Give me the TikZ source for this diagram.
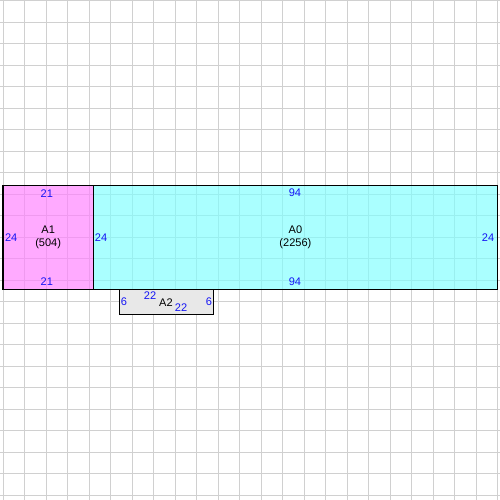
\documentclass[tikz,border=0pt]{standalone}
\usepackage{fontspec}
\setmainfont{Liberation Sans}
\usepackage{xcolor}
\usepackage{tikz}
\definecolor{gridgray}{RGB}{208, 208, 208}
\definecolor{roompink}{RGB}{255, 128, 255}
\definecolor{roomcyan}{RGB}{128, 255, 255}
\definecolor{roomgray}{RGB}{232, 232, 232}
\definecolor{dimblue}{RGB}{20, 20, 245}

\begin{document}
\begin{tikzpicture}[x=1mm, y=-1mm,
    gridline/.style={gridgray, line width=0.66pt},
    room/.style={draw=black, line width=0.7pt},
    dim/.style={dimblue, font=\fontsize{7.3}{8.5}\selectfont, inner sep=0pt},
    lbl/.style={black, font=\fontsize{7.3}{8.5}\selectfont, align=center, inner sep=0pt}]
\useasboundingbox (-0.7,-0.23) rectangle (115.58,116.05);

% Background grid
\foreach \g in {0,5,...,115} {
    \draw[gridline] (\g,-0.23) -- (\g,116.05);
}
\foreach \g in {0,5,...,115} {
    \draw[gridline] (-0.7,\g) -- (115.58,\g);
}

% Rooms
\fill[roompink, fill opacity=0.67] (0,43) rectangle (21,67);
\fill[roomcyan, fill opacity=0.67] (21,43) rectangle (115,67);
\draw[room] (0,43) rectangle (21,67);
\draw[room] (21,43) rectangle (115,67);
\draw[room, fill=roomgray] (27,67) rectangle (49,73);

% Room names
\node[lbl] (a1) at (10.5,55) {A1\\(504)};
\node[lbl] (a0) at (68,55) {A0\\(2256)};
\node[lbl] (a2) at (37.9,70.2) {A2};

% Dimensions of A1
\node[dim] (a1top) at (10.2,44.7) {21};
\node[dim] (a1bot) at (10.2,65.3) {21};
\node[dim] (a1left) at (1.9,55) {24};

% Dimensions of A0
\node[dim] (a0top) at (67.9,44.7) {94};
\node[dim] (a0bot) at (67.9,65.3) {94};
\node[dim] (a0left) at (22.8,55) {24};
\node[dim] (a0right) at (112.8,55) {24};

% Dimensions of A2
\node[dim] (a2left) at (28.1,69.9) {6};
\node[dim] (a2right) at (47.9,69.9) {6};
\node[dim] (a2top) at (34.2,68.6) {22};
\node[dim] (a2bot) at (41.4,71.2) {22};
\end{tikzpicture}
\end{document}
